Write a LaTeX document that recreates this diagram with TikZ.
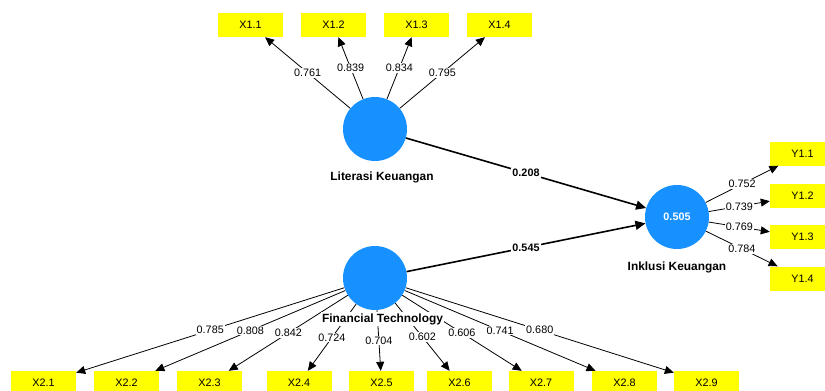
\documentclass[tikz,border=0pt]{standalone}
\usepackage{fontspec}
\setmainfont{Liberation Sans}
\usepackage{xcolor}
\usetikzlibrary{arrows.meta, positioning}

\definecolor{lvblue}{RGB}{22,145,255}
\definecolor{mvyellow}{RGB}{255,255,0}

\begin{document}
\begin{tikzpicture}[
  x=1pt, y=-1pt,
  latent/.style={
    circle,
    fill=lvblue,
    minimum size=64pt,
    inner sep=0pt,
    text=white,
    font=\fontsize{10.8}{12}\selectfont\bfseries
  },
  indicator/.style={
    rectangle,
    fill=mvyellow,
    minimum width=65pt,
    minimum height=24pt,
    inner sep=0pt,
    font=\fontsize{10.8}{12}\selectfont
  },
  lvname/.style={
    fill=white,
    inner sep=1pt,
    font=\fontsize{11.9}{13}\selectfont\bfseries
  },
  coef/.style={
    fill=white,
    inner sep=1pt,
    font=\fontsize{10.8}{12}\selectfont
  },
  loading/.style={
    -{Triangle[length=9pt, width=8pt]},
    line width=0.8pt
  },
  structural/.style={
    -{Triangle[length=10pt, width=9pt]},
    line width=1.6pt
  }
]

\useasboundingbox (0,0) rectangle (825,391);

% =========================================================
% Latent variables
% =========================================================
\node[latent] (lit) at (375,129) {};
\node[latent] (fin) at (375,278) {};
\node[latent] (inc) at (677,217) {0.505};

% =========================================================
% Indicators of Literasi Keuangan (top row)
% =========================================================
\node[indicator] (x11) at (250.5,25) {X1.1};
\node[indicator] (x12) at (333.5,25) {X1.2};
\node[indicator] (x13) at (416.5,25) {X1.3};
\node[indicator] (x14) at (499.5,25) {X1.4};

\draw[loading] (lit) -- node[coef] {0.761} (x11);
\draw[loading] (lit) -- node[coef] {0.839} (x12);
\draw[loading] (lit) -- node[coef] {0.834} (x13);
\draw[loading] (lit) -- node[coef] {0.795} (x14);

% =========================================================
% Indicators of Inklusi Keuangan (right column)
% =========================================================
\node[indicator] (y11) at (802.5,153.5) {Y1.1};
\node[indicator] (y12) at (802.5,195.5) {Y1.2};
\node[indicator] (y13) at (802.5,237) {Y1.3};
\node[indicator] (y14) at (802.5,278.5) {Y1.4};

\draw[loading] (inc) -- node[coef] {0.752} (y11);
\draw[loading] (inc) -- node[coef] {0.739} (y12);
\draw[loading] (inc) -- node[coef] {0.769} (y13);
\draw[loading] (inc) -- node[coef] {0.784} (y14);

% =========================================================
% Indicators of Financial Technology (bottom row)
% =========================================================
\node[indicator] (x21) at (43.5,383) {X2.1};
\node[indicator] (x22) at (126.5,383) {X2.2};
\node[indicator] (x23) at (209.5,383) {X2.3};
\node[indicator] (x24) at (299,383) {X2.4};
\node[indicator] (x25) at (381.5,383) {X2.5};
\node[indicator] (x26) at (459.5,383) {X2.6};
\node[indicator] (x27) at (541,383) {X2.7};
\node[indicator] (x28) at (624.5,383) {X2.8};
\node[indicator] (x29) at (706.5,383) {X2.9};

\draw[loading] (fin) -- node[coef] {0.785} (x21);
\draw[loading] (fin) -- node[coef] {0.808} (x22);
\draw[loading] (fin) -- node[coef] {0.842} (x23);
\draw[loading] (fin) -- node[coef] {0.724} (x24);
\draw[loading] (fin) -- node[coef] {0.704} (x25);
\draw[loading] (fin) -- node[coef] {0.602} (x26);
\draw[loading] (fin) -- node[coef] {0.606} (x27);
\draw[loading] (fin) -- node[coef] {0.741} (x28);
\draw[loading] (fin) -- node[coef] {0.680} (x29);

% =========================================================
% Structural paths
% =========================================================
\draw[structural] (lit) -- node[coef, font=\fontsize{10.8}{12}\selectfont\bfseries] {0.208} (inc);
\draw[structural] (fin) -- node[coef, font=\fontsize{10.8}{12}\selectfont\bfseries] {0.545} (inc);

% =========================================================
% Construct names
% =========================================================
\node[lvname] (litname) at (382,177) {Literasi Keuangan};
\node[lvname] (finname) at (382.5,319) {Financial Technology};
\node[lvname] (incname) at (677,267) {Inklusi Keuangan};

\end{tikzpicture}
\end{document}
